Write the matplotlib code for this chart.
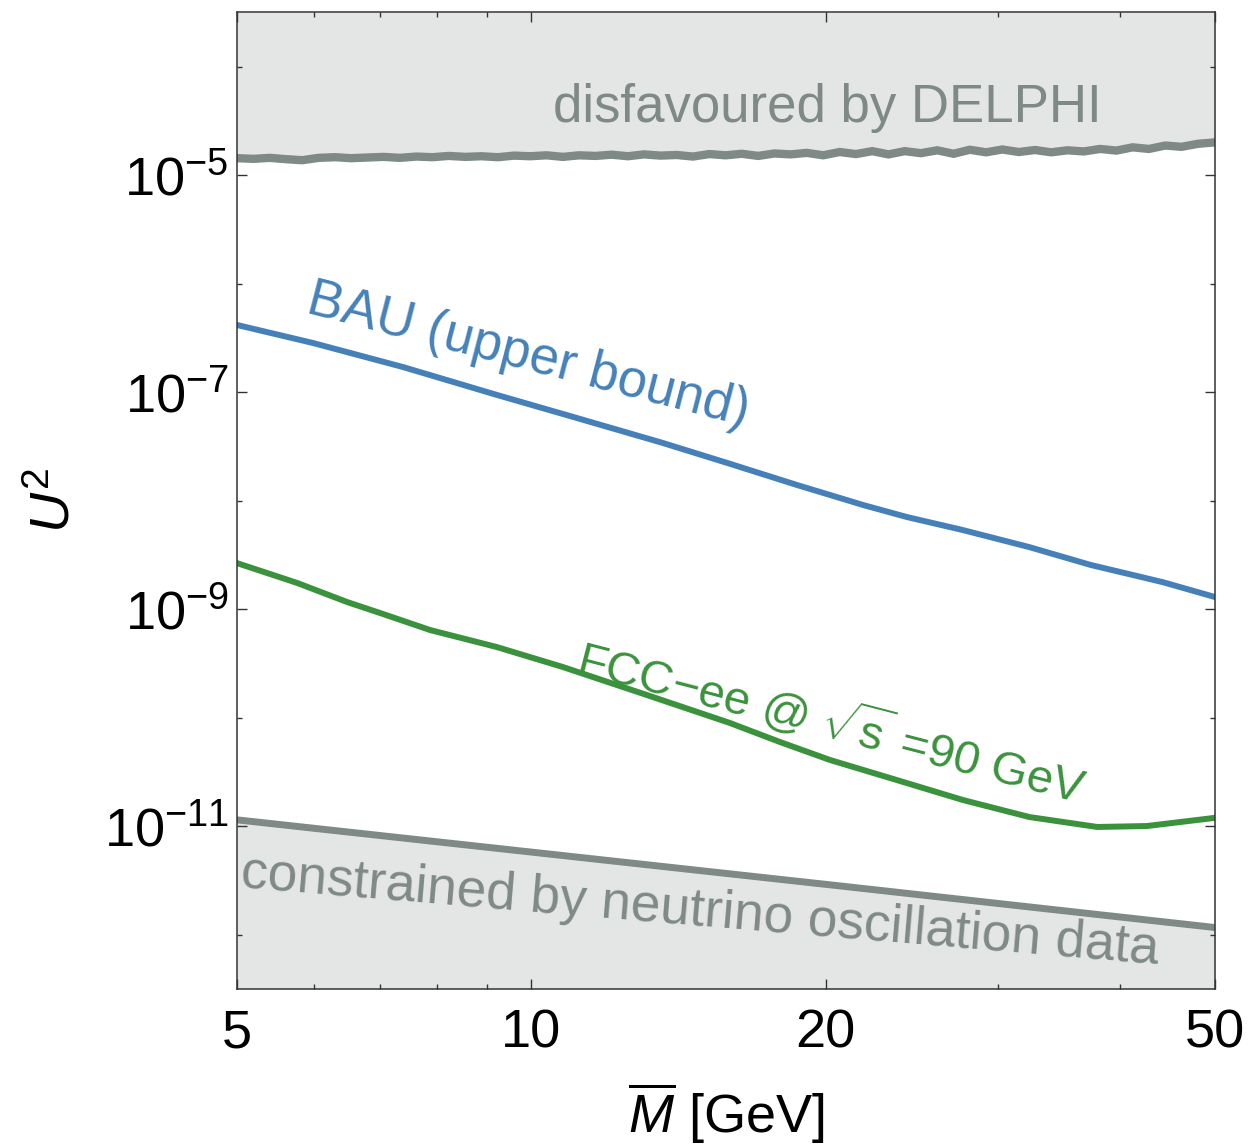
import numpy as np
import matplotlib
matplotlib.use("Agg")
import matplotlib.pyplot as plt

plt.rcParams['font.family'] = ['Liberation Sans', 'DejaVu Sans']
plt.rcParams['mathtext.fontset'] = 'custom'
plt.rcParams['mathtext.rm'] = 'Liberation Sans'
plt.rcParams['mathtext.it'] = 'Liberation Sans:italic'
plt.rcParams['mathtext.bf'] = 'Liberation Sans:bold'

# ---------------- data ----------------
bau_M = [5.0, 5.98, 7.39, 9.22, 11.03, 13.63, 15.96, 18.69, 21.83, 24.2, 27.6, 32.3, 37.3, 44.2, 50.0]
bau_U2 = [4.15e-7, 2.83e-7, 1.70e-7, 9.4e-8, 5.9e-8, 3.39e-8, 2.18e-8, 1.39e-8, 9.1e-9,
          7.05e-9, 5.35e-9, 3.72e-9, 2.55e-9, 1.77e-9, 1.29e-9]

fcc_M = [5.0, 5.76, 6.48, 7.00, 7.88, 9.22, 10.77, 13.13, 15.96, 17.96, 20.2, 23.65, 27.6,
         32.3, 37.9, 42.6, 50.0]
fcc_U2 = [2.65e-9, 1.74e-9, 1.16e-9, 9.2e-10, 6.4e-10, 4.46e-10, 2.92e-10, 1.61e-10, 8.9e-11,
          5.94e-11, 4.06e-11, 2.65e-11, 1.74e-11, 1.21e-11, 9.8e-12, 1.0e-11, 1.19e-11]

nu_M = [5.0, 10.0, 20.0, 50.0]
nu_U2 = [1.14e-11, 5.75e-12, 2.9e-12, 1.16e-12]

delphi_M = [5.00, 5.20, 5.40, 5.61, 5.83, 6.06, 6.30, 6.54, 6.80, 7.06, 7.34, 7.63, 7.92, 8.23,
            8.56, 8.89, 9.24, 9.60, 9.97, 10.36, 10.77, 11.19, 11.63, 12.08, 12.55, 13.04,
            13.55, 14.08, 14.63, 15.20, 15.80, 16.41, 17.06, 17.72, 18.41, 19.13, 19.88,
            20.66, 21.47, 22.31, 23.18, 24.08, 25.02, 26.00, 27.02, 28.07, 29.17, 30.31,
            31.50, 32.73, 34.00, 35.33, 36.71, 38.15, 39.64, 41.19, 42.80, 44.47, 46.21,
            48.02, 50.00]
delphi_U2 = [1.43e-5, 1.41e-5, 1.44e-5, 1.40e-5, 1.37e-5, 1.44e-5, 1.46e-5, 1.43e-5, 1.45e-5,
             1.47e-5, 1.44e-5, 1.48e-5, 1.46e-5, 1.50e-5, 1.47e-5, 1.49e-5, 1.46e-5, 1.51e-5,
             1.49e-5, 1.52e-5, 1.47e-5, 1.52e-5, 1.50e-5, 1.54e-5, 1.49e-5, 1.55e-5, 1.51e-5,
             1.53e-5, 1.48e-5, 1.56e-5, 1.52e-5, 1.57e-5, 1.50e-5, 1.58e-5, 1.55e-5, 1.60e-5,
             1.52e-5, 1.63e-5, 1.56e-5, 1.66e-5, 1.55e-5, 1.66e-5, 1.59e-5, 1.69e-5, 1.57e-5,
             1.71e-5, 1.62e-5, 1.72e-5, 1.63e-5, 1.70e-5, 1.62e-5, 1.69e-5, 1.65e-5, 1.74e-5,
             1.68e-5, 1.80e-5, 1.74e-5, 1.87e-5, 1.82e-5, 1.94e-5, 2.00e-5]

x_major = [5, 10, 20, 50]
x_major_labels = ['5', '10', '20', '50']
x_minor = [6, 7, 8, 9, 30, 40]
y_major = [1e-11, 1e-9, 1e-7, 1e-5]
y_major_labels = [r'$10^{-11}$', r'$10^{-9}$', r'$10^{-7}$', r'$10^{-5}$']
y_minor = [1e-12, 1e-10, 1e-8, 1e-6, 1e-4]

# ---------------- style ----------------
GRAY = '#7f8985'
FILL = '#e4e6e5'
BLUE = '#4581b8'
GREEN = '#3b923c'

fig = plt.figure(figsize=(12.5, 11.48), dpi=100)
ax = fig.add_axes([0.1896, 0.1387, 0.7824, 0.8506])
ax.set_xscale('log')
ax.set_yscale('log')
ax.set_xlim(5, 50)
ax.set_ylim(10**-12.5, 10**-3.5)

# shaded regions
ax.fill_between(delphi_M, delphi_U2, 10**-3.5, color=FILL, lw=0, zorder=1)
ax.fill_between(nu_M, 10**-12.5, nu_U2, color=FILL, lw=0, zorder=1)

ax.plot(delphi_M, delphi_U2, color=GRAY, lw=6.0, solid_joinstyle='miter', zorder=2)
ax.plot(nu_M, nu_U2, color=GRAY, lw=5.0, zorder=2)
ax.plot(bau_M, bau_U2, color=BLUE, lw=4.3, zorder=3)
ax.plot(fcc_M, fcc_U2, color=GREEN, lw=4.3, zorder=3)

# ticks
ax.set_xticks(x_major)
ax.set_xticklabels(x_major_labels)
ax.set_xticks(x_minor, minor=True)
ax.set_xticklabels([], minor=True)
ax.set_yticks(y_major)
ax.set_yticklabels(y_major_labels)
ax.set_yticks(y_minor, minor=True)
ax.set_yticklabels([], minor=True)
ax.tick_params(which='both', direction='in', top=True, right=True, width=1.0, color='#333333')
ax.tick_params(which='major', length=7, labelsize=39)
ax.tick_params(axis='x', which='major', pad=14)
ax.tick_params(axis='y', which='major', pad=6)
ax.tick_params(which='minor', length=3.5)
for s in ax.spines.values():
    s.set_linewidth(1.1)
    s.set_color('#333333')
    s.set_zorder(5)

ax.set_xlabel(r'$\overline{M}$ [GeV]', fontsize=39, labelpad=16)
ax.set_ylabel(r'$U^2$', fontsize=40, labelpad=16)

# annotations
ax.text(0.604, 0.8877, 'disfavoured by DELPHI', transform=ax.transAxes, color=GRAY,
        fontsize=38, ha='center', va='baseline', zorder=4)
ax.text(0.0695, 0.693, 'BAU (upper bound)', transform=ax.transAxes, color=BLUE,
        fontsize=38, ha='left', va='baseline', rotation=-14.5, rotation_mode='anchor', zorder=4)
ax.text(0.3446, 0.3234, r'FCC$-$ee @ $\sqrt{\mathrm{s}}$ =90 GeV', transform=ax.transAxes,
        color=GREEN, fontsize=34, ha='left', va='baseline', rotation=-14.5,
        rotation_mode='anchor', zorder=4)
ax.text(0.003, 0.1042, 'constrained by neutrino oscillation data', transform=ax.transAxes,
        color=GRAY, fontsize=38.3, ha='left', va='baseline', rotation=-4.8,
        rotation_mode='anchor', zorder=4)

fig.savefig('out.png', dpi=100)
